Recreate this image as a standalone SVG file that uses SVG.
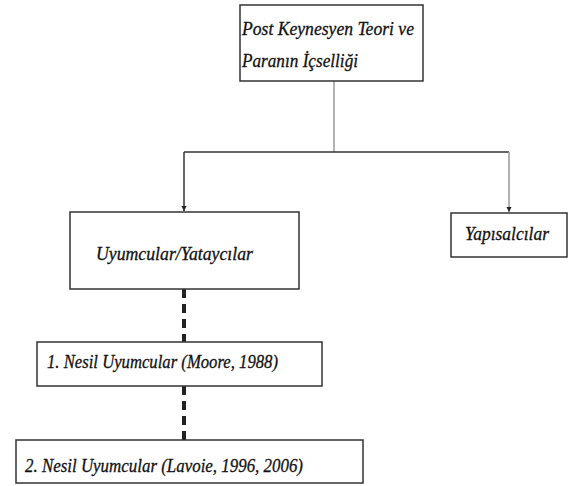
<svg xmlns="http://www.w3.org/2000/svg" width="572" height="486" viewBox="0 0 572 486">
<style>
.box{fill:#fff;stroke:#333;stroke-width:1.5}
.t{font-family:"Liberation Serif","Times New Roman",serif;font-style:italic;fill:#111;stroke:#111;stroke-width:0.3}
.dk{stroke:#333;stroke-width:1.5;fill:none}
.lt{stroke:#999;stroke-width:1.5;fill:none}
.dash{stroke:#222;stroke-width:4;stroke-dasharray:9 6;fill:none}
</style>
<defs>
<marker id="ah" markerWidth="6" markerHeight="6" refX="5" refY="3" orient="auto" markerUnits="userSpaceOnUse">
<path d="M0,0.5 L5,3 L0,5.5 Z" fill="#222"/>
</marker>
</defs>
<g id="connectors">
<path class="lt" d="M334,81 V152"/>
<path class="dk" d="M184,152 H509"/>
<path class="dk" d="M184,152 V211" marker-end="url(#ah)"/>
<path class="lt" d="M509,152 V212" marker-end="url(#ah)"/>
<path class="dash" d="M184,289 V342"/>
<path class="dash" d="M184,386 V440"/>
</g>
<g id="root">
<rect class="box" x="240" y="5" width="183" height="76"/>
<text class="t" x="242" y="35" font-size="19" textLength="172" lengthAdjust="spacingAndGlyphs">Post Keynesyen Teori ve</text>
<text class="t" x="242" y="67" font-size="19" textLength="116" lengthAdjust="spacingAndGlyphs">Paranın İçselliği</text>
</g>
<g id="uyumcular">
<rect class="box" x="70" y="212" width="229" height="77"/>
<text class="t" x="96" y="260" font-size="19" textLength="157" lengthAdjust="spacingAndGlyphs">Uyumcular/Yataycılar</text>
</g>
<g id="yapisalcilar">
<rect class="box" x="451" y="213" width="116" height="44"/>
<text class="t" x="465" y="240" font-size="19" textLength="84" lengthAdjust="spacingAndGlyphs">Yapısalcılar</text>
</g>
<g id="nesil1">
<rect class="box" x="37" y="342" width="285" height="44"/>
<text class="t" x="47" y="368" font-size="19" textLength="231" lengthAdjust="spacingAndGlyphs">1. Nesil Uyumcular (Moore, 1988)</text>
</g>
<g id="nesil2">
<rect class="box" x="16" y="440" width="347" height="43"/>
<text class="t" x="25" y="472" font-size="19" textLength="278" lengthAdjust="spacingAndGlyphs">2. Nesil Uyumcular (Lavoie, 1996, 2006)</text>
</g>
</svg>
